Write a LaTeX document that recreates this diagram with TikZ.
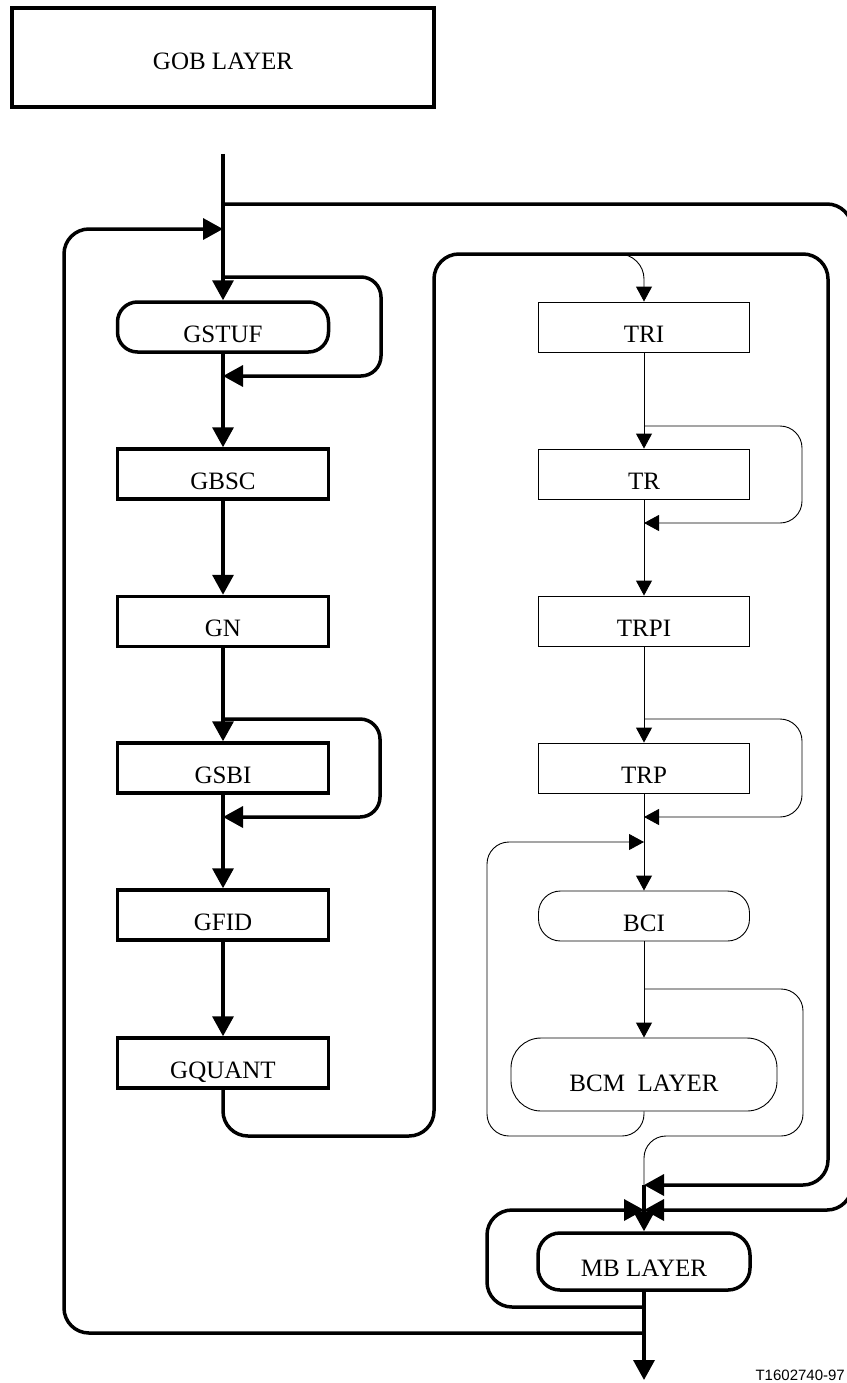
\documentclass[tikz,border=0pt]{standalone}
\usepackage{fontspec}
\setmainfont{Liberation Serif}
\newfontfamily\tagfont{Liberation Sans}
\usetikzlibrary{arrows.meta}
\begin{document}
\begin{tikzpicture}[x=1pt,y=-1pt,
  thickln/.style={line width=3.5pt},
  thinln/.style={line width=0.9pt},
  bigarrow/.style={-{Triangle[length=20pt,width=21pt]}},
  smallarrow/.style={-{Triangle[length=15pt,width=16pt]}},
  boxtext/.style={font=\fontsize{25}{25}\selectfont, text height=30pt, text depth=0pt, inner sep=0pt, align=center},
  gbox/.style={boxtext, draw, thickln, minimum width=211pt, minimum height=50pt},
  gterm/.style={gbox, rounded corners=20pt},
  tbox/.style={boxtext, draw, thinln, minimum width=211pt, minimum height=50pt},
  tterm/.style={tbox, rounded corners=22pt},
]
\useasboundingbox (0,0) rectangle (846,1383);

% boxes
\node[boxtext, draw, line width=4.5pt, minimum width=422pt, minimum height=99pt, text height=24pt] (gob) at (223,57.5) {GOB LAYER};
\node[gterm] (gstuf) at (223,327) {GSTUF};
\node[gbox] (gbsc) at (223,474) {GBSC};
\node[gbox] (gn) at (223,621.5) {GN};
\node[gbox] (gsbi) at (223,768) {GSBI};
\node[gbox] (gfid) at (223,915) {GFID};
\node[gbox] (gquant) at (223,1063) {GQUANT};

\node[tbox] (tri) at (644,327) {TRI};
\node[tbox] (tr) at (644,474) {TR};
\node[tbox] (trpi) at (644,621) {TRPI};
\node[tbox] (trp) at (644,768) {TRP};
\node[tterm] (bci) at (644,916) {BCI};
\node[tbox, rounded corners=30pt, minimum width=266pt, minimum height=73pt, text height=34pt] (bcm) at (644,1074.5) {BCM\ \ LAYER};
\node[gbox, rounded corners=22pt, minimum width=212pt, minimum height=57pt] (mb) at (644,1261.5) {MB LAYER};

\node[font=\tagfont\fontsize{15}{15}\selectfont, anchor=base east, inner sep=0pt] (tag) at (845,1380) {T1602740-97};

% junction coordinates
\coordinate (start) at (223,154);
\coordinate (topbranch) at (223,204);
\coordinate (loopin) at (223,229);
\coordinate (mbin) at (644,1185);
\coordinate (mbjoin) at (644,1210);
\coordinate (exit) at (644,1333);
\coordinate (mbloop) at (644,1307);
\coordinate (outend) at (644,1380);

% thick connectors
\draw[thickln,bigarrow] (start) -- (gstuf.north);
\draw[thickln,bigarrow,rounded corners=25pt] (topbranch) -- (852,204) -- (852,1210) -- (mbjoin);
\draw[thickln,bigarrow,rounded corners=25pt] (exit) -- (64,1333) -- (64,229) -- (loopin);
\draw[thickln,bigarrow,rounded corners=20pt] (223,277) -- (381,277) -- (381,376) -- (223,376);
\draw[thickln,bigarrow] (gstuf.south) -- (gbsc.north);
\draw[thickln,bigarrow] (gbsc.south) -- (gn.north);
\draw[thickln,bigarrow] (gn.south) -- (gsbi.north);
\draw[thickln,bigarrow,rounded corners=20pt] (223,719) -- (380,719) -- (380,817) -- (223,817);
\draw[thickln,bigarrow] (gsbi.south) -- (gfid.north);
\draw[thickln,bigarrow] (gfid.south) -- (gquant.north);
\draw[thickln,bigarrow,rounded corners=25pt] (gquant.south) -- (223,1136) -- (434,1136) -- (434,254) -- (828,254) -- (828,1185) -- (mbin);
\draw[thickln,bigarrow,rounded corners=25pt] (mbloop) -- (487,1307) -- (487,1210) -- (mbjoin);
\draw[thickln,bigarrow] (mbin) -- (mb.north);
\draw[thickln,bigarrow] (mb.south) -- (outend);

% thin connectors
\draw[thinln,smallarrow,rounded corners=25pt] (592,254) -- (644,254) -- (tri.north);
\draw[thinln,smallarrow] (tri.south) -- (tr.north);
\draw[thinln,smallarrow,rounded corners=22pt] (644,426) -- (802,426) -- (802,523) -- (644,523);
\draw[thinln,smallarrow] (tr.south) -- (trpi.north);
\draw[thinln,smallarrow] (trpi.south) -- (trp.north);
\draw[thinln,smallarrow,rounded corners=22pt] (644,719) -- (802,719) -- (802,817) -- (644,817);
\draw[thinln,smallarrow] (trp.south) -- (bci.north);
\draw[thinln,smallarrow,rounded corners=22pt] (bcm.south) -- (644,1136) -- (487,1136) -- (487,842) -- (644,842);
\draw[thinln,smallarrow] (bci.south) -- (bcm.north);
\draw[thinln,rounded corners=22pt] (644,989) -- (803,989) -- (803,1136) -- (644,1136) -- (mbin);
\end{tikzpicture}
\end{document}
